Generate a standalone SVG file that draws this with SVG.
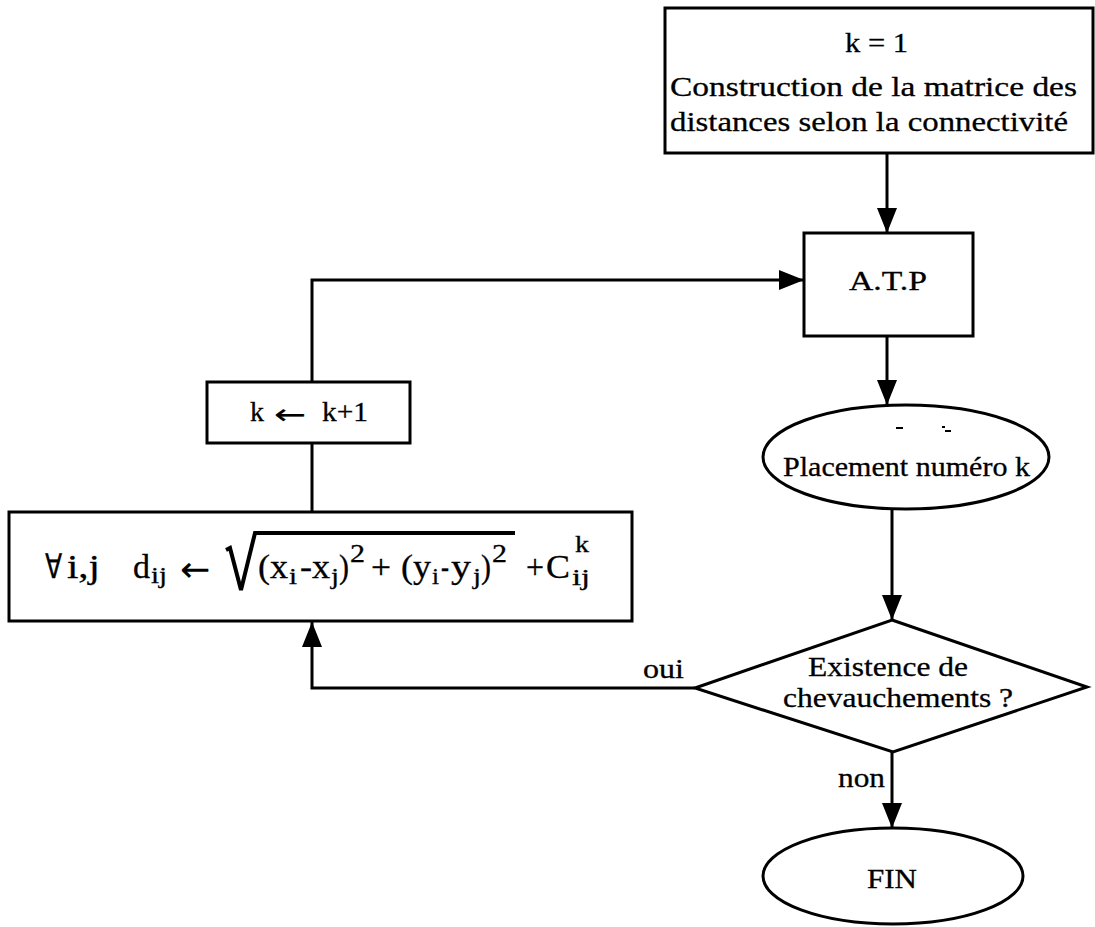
<svg xmlns="http://www.w3.org/2000/svg" width="1095" height="927" viewBox="0 0 1095 927">
<style>
.box{fill:#fff;stroke:#000;stroke-width:3}
.ln{fill:none;stroke:#000;stroke-width:3}
text{font-family:"Liberation Serif","Times New Roman",serif;font-size:28px;fill:#000;stroke:#000;stroke-width:0.3}
.f{font-size:34px}
.sub{font-size:24px}
.sup{font-size:26px}
.arr{font-family:"DejaVu Sans",sans-serif;stroke-width:0.2}
</style>
<defs>
<marker id="ah" markerUnits="userSpaceOnUse" markerWidth="26" markerHeight="22" refX="25" refY="10" orient="auto">
<path d="M0,0 L25,10 L0,20 Z" fill="#000"/>
</marker>
</defs>
<rect width="1095" height="927" fill="#fff"/>
<g id="connectors">
<line class="ln" x1="887" y1="153" x2="887" y2="233" marker-end="url(#ah)"/>
<line class="ln" x1="887" y1="336" x2="887" y2="405" marker-end="url(#ah)"/>
<line class="ln" x1="892" y1="509" x2="892" y2="620" marker-end="url(#ah)"/>
<line class="ln" x1="892" y1="752" x2="892" y2="828" marker-end="url(#ah)"/>
<polyline class="ln" points="695,688 312,688 312,622" marker-end="url(#ah)"/>
<line class="ln" x1="312" y1="512" x2="312" y2="443"/>
<polyline class="ln" points="312,382 312,280 804,280" marker-end="url(#ah)"/>
<text x="643" y="678" textLength="41" lengthAdjust="spacingAndGlyphs">oui</text>
<text x="838" y="787" textLength="47" lengthAdjust="spacingAndGlyphs">non</text>
</g>
<g id="init">
<rect class="box" x="665" y="8" width="428" height="145"/>
<text x="845" y="52" textLength="63" lengthAdjust="spacingAndGlyphs">k = 1</text>
<text x="670" y="96" textLength="407" lengthAdjust="spacingAndGlyphs">Construction de la matrice des</text>
<text x="670" y="131" textLength="398" lengthAdjust="spacingAndGlyphs">distances selon la connectivité</text>
</g>
<g id="atp">
<rect class="box" x="804" y="233" width="169" height="103"/>
<text x="849" y="290" textLength="78" lengthAdjust="spacingAndGlyphs">A.T.P</text>
</g>
<g id="placement">
<ellipse class="box" cx="906" cy="457" rx="143" ry="52"/>
<line x1="896" y1="428" x2="903" y2="428" stroke="#000" stroke-width="2"/>
<line x1="942" y1="427" x2="945" y2="427" stroke="#000" stroke-width="2"/>
<line x1="945" y1="431" x2="951" y2="431" stroke="#000" stroke-width="2"/>
<text x="783" y="476" textLength="247" lengthAdjust="spacingAndGlyphs">Placement numéro k</text>
</g>
<g id="decision">
<polygon class="box" points="892,620 1087,687 893,752 695,688"/>
<text x="808" y="676" textLength="160" lengthAdjust="spacingAndGlyphs">Existence de</text>
<text x="783" y="707" textLength="230" lengthAdjust="spacingAndGlyphs">chevauchements ?</text>
</g>
<g id="fin">
<ellipse class="box" cx="893" cy="876" rx="130" ry="48"/>
<text x="867" y="888" textLength="50" lengthAdjust="spacingAndGlyphs">FIN</text>
</g>
<g id="increment">
<rect class="box" x="207" y="382" width="203" height="61"/>
<text x="250" y="421" textLength="14" lengthAdjust="spacingAndGlyphs">k</text>
<text class="arr" x="274" y="424" textLength="32" lengthAdjust="spacingAndGlyphs">←</text>
<text x="322" y="421" textLength="46" lengthAdjust="spacingAndGlyphs">k+1</text>
</g>
<g id="update">
<rect class="box" x="9" y="512" width="623" height="109"/>
<text class="f" x="45" y="578" textLength="17" lengthAdjust="spacingAndGlyphs">∀</text>
<text class="f" x="67" y="578" textLength="33" lengthAdjust="spacingAndGlyphs">i,j</text>
<text class="f" x="133" y="578" textLength="17" lengthAdjust="spacingAndGlyphs">d</text>
<text class="sub" x="151" y="583" textLength="16" lengthAdjust="spacingAndGlyphs">ij</text>
<text class="f arr" x="180" y="581" textLength="30" lengthAdjust="spacingAndGlyphs">←</text>
<path d="M226,550 L230,548 L241,590 L255,533 L515,533" fill="none" stroke="#000" stroke-width="4" stroke-linejoin="miter"/>
<text class="f" x="258" y="578" textLength="30" lengthAdjust="spacingAndGlyphs">(x</text>
<text class="sub" x="289" y="584" textLength="8" lengthAdjust="spacingAndGlyphs">i</text>
<text class="f" x="300" y="578" textLength="30" lengthAdjust="spacingAndGlyphs">-x</text>
<text class="sub" x="331" y="584" textLength="8" lengthAdjust="spacingAndGlyphs">j</text>
<text class="f" x="339" y="578" textLength="10" lengthAdjust="spacingAndGlyphs">)</text>
<text class="sup" x="350" y="562" textLength="15" lengthAdjust="spacingAndGlyphs">2</text>
<text class="f" x="371" y="578" textLength="20" lengthAdjust="spacingAndGlyphs">+</text>
<text class="f" x="401" y="578" textLength="30" lengthAdjust="spacingAndGlyphs">(y</text>
<text class="sub" x="432" y="584" textLength="7" lengthAdjust="spacingAndGlyphs">i</text>
<text class="f" x="441" y="578" textLength="8" lengthAdjust="spacingAndGlyphs">-</text>
<text class="f" x="451" y="578" textLength="20" lengthAdjust="spacingAndGlyphs">y</text>
<text class="sub" x="473" y="584" textLength="8" lengthAdjust="spacingAndGlyphs">j</text>
<text class="f" x="481" y="578" textLength="10" lengthAdjust="spacingAndGlyphs">)</text>
<text class="sup" x="492" y="562" textLength="15" lengthAdjust="spacingAndGlyphs">2</text>
<text class="f" x="526" y="578" textLength="18" lengthAdjust="spacingAndGlyphs">+</text>
<text class="f" x="546" y="578" textLength="24" lengthAdjust="spacingAndGlyphs">C</text>
<text class="sub" x="575" y="552" textLength="14" lengthAdjust="spacingAndGlyphs">k</text>
<text class="sub" x="572" y="585" textLength="18" lengthAdjust="spacingAndGlyphs">ij</text>
</g>
</svg>
